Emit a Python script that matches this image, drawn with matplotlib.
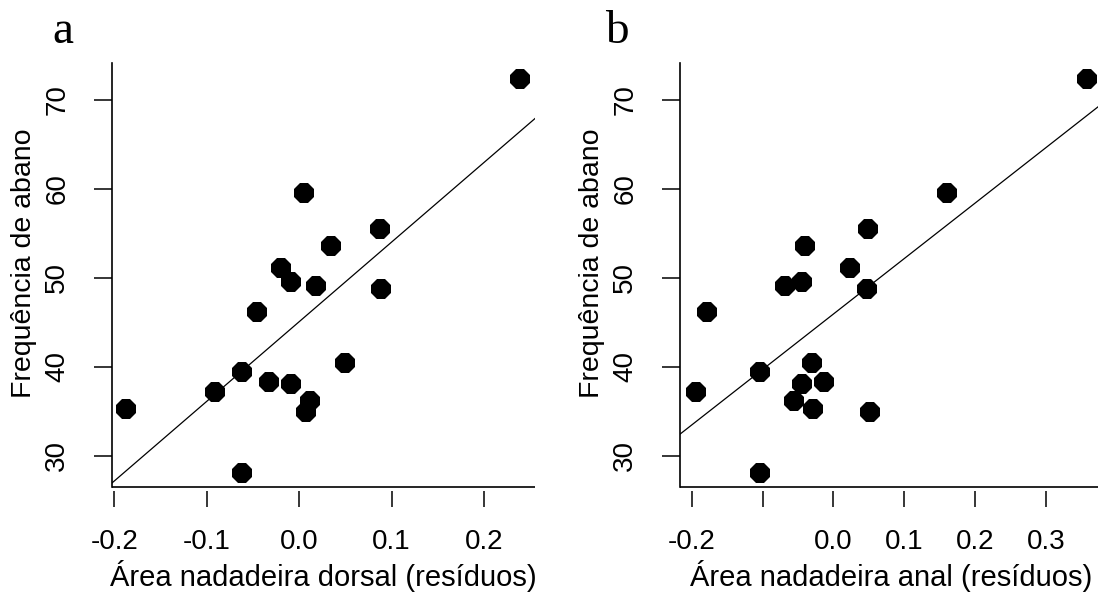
import numpy as np
import matplotlib
matplotlib.use("Agg")
import matplotlib.pyplot as plt

# Data (same fish in both panels)
freq_abano = [72.3, 59.5, 55.5, 53.6, 51.1, 49.5, 49.1, 48.7, 46.2,
              40.4, 39.4, 38.3, 38.1, 37.2, 36.2, 35.3, 34.9, 28.1]
dorsal_res = [0.239, 0.005, 0.088, 0.034, -0.020, -0.009, 0.018, 0.089, -0.046,
              0.050, -0.062, -0.033, -0.009, -0.091, 0.012, -0.187, 0.008, -0.062]
anal_res = [0.359, 0.161, 0.049, -0.040, 0.024, -0.045, -0.069, 0.047, -0.179,
            -0.031, -0.104, -0.013, -0.045, -0.195, -0.056, -0.029, 0.051, -0.104]

y_ticks = [30, 40, 50, 60, 70]
x_ticks_a = [-0.2, -0.1, 0.0, 0.1, 0.2]
x_ticks_b = [-0.2, -0.1, 0.0, 0.1, 0.2, 0.3]
x_labels_b = ["-0.2", "", "0.0", "0.1", "0.2", "0.3"]

ylabel = "Frequência de abano"
xlabel_a = "Área nadadeira dorsal (resíduos)"
xlabel_b = "Área nadadeira anal (resíduos)"

W, H = 1098, 601
fig = plt.figure(figsize=(W / 100, H / 100), dpi=100)
plt.rcParams['font.family'] = ['Liberation Sans', 'DejaVu Sans']

def px2fig(x, y):
    return x / W, (H - y) / H

FS = 20
LFS = 21

def make_panel(left_px, xdata, xticks, xticklabels, xlim, xlabel, letter, letter_x):
    bottom_px, top_px = 487, 63
    width_px = 423
    l, b = px2fig(left_px, bottom_px)
    ax = fig.add_axes([l, b, width_px / W, (bottom_px - top_px) / H])
    x = np.array(xdata)
    y = np.array(freq_abano)
    ax.plot(x, y, linestyle='none', marker='8', markersize=16,
            color='black', markeredgewidth=0, zorder=3)
    slope, intercept = np.polyfit(x, y, 1)
    ax.axline((0, intercept), slope=slope, color='black', lw=0.9, zorder=2)
    ax.set_xlim(*xlim)
    ax.set_ylim(26.5, 74.15)
    # L-shaped box
    for s in ['top', 'right']:
        ax.spines[s].set_visible(False)
    ax.spines['left'].set_linewidth(1.2)
    ax.spines['bottom'].set_position(('outward', 3))
    ax.spines['bottom'].set_color('none')
    ax.plot([0, 1], [0, 0], transform=ax.transAxes, color='black', lw=1.2,
            clip_on=False, solid_capstyle='butt', zorder=4)
    ax.set_xticks(xticks)
    ax.set_xticklabels(xticklabels)
    ax.set_yticks(y_ticks)
    ax.set_yticklabels([str(v) for v in y_ticks], rotation=90, va='center')
    ax.tick_params(axis='x', length=11.5, width=1.1, pad=16, labelsize=FS,
                   direction='out', colors='black')
    ax.tick_params(axis='y', length=13, width=1.1, pad=17, labelsize=FS,
                   direction='out', colors='black')
    cx = left_px + width_px / 2
    fx, fy = px2fig(cx, 586)
    fig.text(fx, fy, xlabel, ha='center', va='baseline', fontsize=LFS)
    fx, fy = px2fig(left_px - 88, 263)
    fig.text(fx, fy, ylabel, ha='center', va='center', rotation=90, fontsize=20.5)
    fx, fy = px2fig(letter_x, 43)
    fig.text(fx, fy, letter, ha='left', va='baseline', fontsize=34,
             family=['Liberation Serif', 'DejaVu Serif'])
    return ax

make_panel(112, dorsal_res, x_ticks_a, [f"{v:.1f}" for v in x_ticks_a],
           (-0.2025, 0.2553), xlabel_a, 'a', 52)
make_panel(680, anal_res, x_ticks_b, x_labels_b,
           (-0.217, 0.381), xlabel_b, 'b', 605)

fig.savefig("out.png", dpi=100)
